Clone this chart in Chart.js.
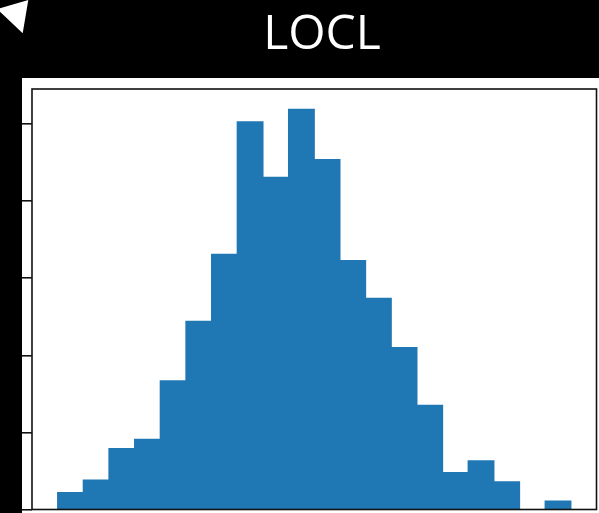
<!DOCTYPE html>
<html>
<head>
<meta charset="utf-8">
<style>
  html, body { margin: 0; padding: 0; background: #000; }
  #wrap { width: 599px; height: 513px; }
</style>
<script src="https://cdn.jsdelivr.net/npm/chart.js@4.4.1/dist/chart.umd.min.js"></script>
</head>
<body>
<div id="wrap"><canvas id="c" width="599" height="513"></canvas></div>
<script>
// Histogram of LOCL: 20 equal-width bins, edges 0..20
const title = 'LOCL';
const binCenters = [0.5, 1.5, 2.5, 3.5, 4.5, 5.5, 6.5, 7.5, 8.5, 9.5,
                    10.5, 11.5, 12.5, 13.5, 14.5, 15.5, 16.5, 17.5, 18.5, 19.5];
const binHeights = [2.2, 3.8, 7.9, 9.1, 16.7, 24.4, 33.1, 50.3, 43.1, 51.9,
                    45.4, 32.3, 27.4, 21.0, 13.5, 4.8, 6.3, 3.6, 0, 1.1];
const yTicks = [0, 10, 20, 30, 40, 50];

const barColor = '#1f77b4';

const points = binCenters.map((x, i) => ({ x: x, y: binHeights[i] }));

// Page frame: black band with the title, white panel behind the axes
const framePlugin = {
  id: 'frame',
  beforeDraw(chart) {
    const ctx = chart.ctx;
    ctx.save();
    ctx.fillStyle = '#000';
    ctx.fillRect(0, 0, chart.width, chart.height);
    ctx.fillStyle = '#fff';
    ctx.fillRect(22, 78, chart.width - 22, chart.height - 78);
    // corner marker
    ctx.beginPath();
    ctx.moveTo(0, 8.3);
    ctx.lineTo(28.3, 0);
    ctx.lineTo(22.7, 33.3);
    ctx.lineTo(0, 11.7);
    ctx.closePath();
    ctx.fill();
    // heading
    ctx.font = '48px "Open Sans", "DejaVu Sans", sans-serif';
    ctx.textAlign = 'center';
    ctx.textBaseline = 'alphabetic';
    ctx.fillText(title, 322, 48.5);
    ctx.restore();
  },
  afterDatasetsDraw(chart) {
    const a = chart.chartArea;
    const ctx = chart.ctx;
    ctx.save();
    ctx.strokeStyle = '#111';
    ctx.lineWidth = 1.6;
    ctx.strokeRect(a.left, a.top, a.right - a.left, a.bottom - a.top);
    ctx.restore();
  }
};

new Chart(document.getElementById('c'), {
  type: 'bar',
  data: {
    datasets: [{
      data: points,
      backgroundColor: barColor,
      borderWidth: 0,
      inflateAmount: 0.6,
      barPercentage: 1.0,
      categoryPercentage: 1.0
    }]
  },
  options: {
    responsive: false,
    animation: false,
    devicePixelRatio: 1,
    layout: { padding: { left: 22, top: 89, right: 2.5, bottom: 3.5 } },
    plugins: {
      legend: { display: false },
      tooltip: { enabled: false },
      title: { display: false }
    },
    scales: {
      x: {
        type: 'linear',
        min: -1,
        max: 21,
        offset: false,
        border: { display: false },
        grid: { display: false, drawTicks: false },
        ticks: { display: false }
      },
      y: {
        type: 'linear',
        min: 0,
        max: 54.55,
        border: { display: false },
        grid: {
          display: true,
          drawOnChartArea: false,
          drawTicks: true,
          tickLength: 10,
          color: '#111',
          lineWidth: 1.6
        },
        afterBuildTicks(scale) {
          scale.ticks = yTicks.map(v => ({ value: v }));
        },
        ticks: { display: false }
      }
    }
  },
  plugins: [framePlugin]
});
</script>
</body>
</html>
